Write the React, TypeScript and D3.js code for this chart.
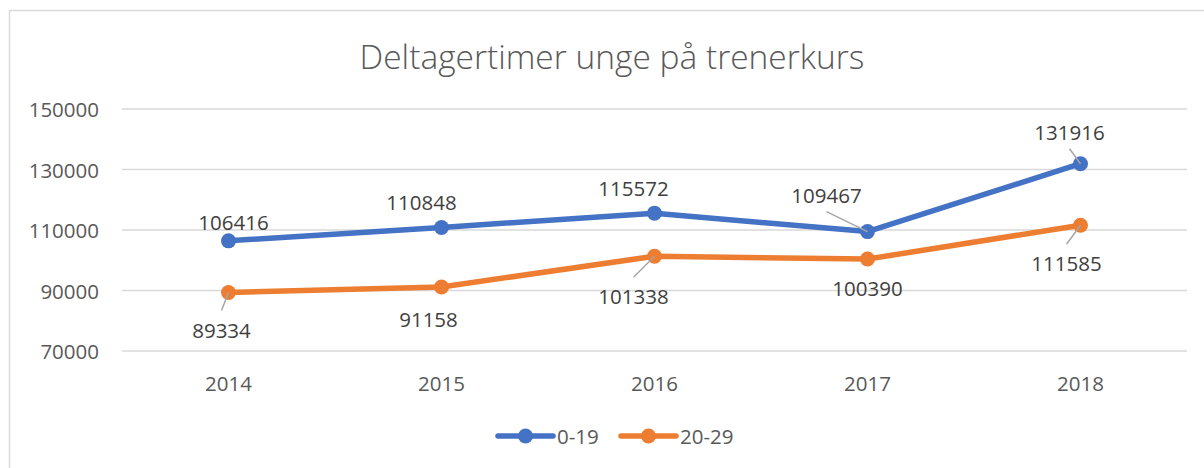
import React from "react";
import * as d3 from "d3";

const title = "Deltagertimer unge på trenerkurs";
const years = ["2014", "2015", "2016", "2017", "2018"];
const seriesNames = ["0-19", "20-29"];
const values0019 = [106416, 110848, 115572, 109467, 131916];
const values2029 = [89334, 91158, 101338, 100390, 111585];
const yTicks = [70000, 90000, 110000, 130000, 150000];
const colors = ["#4472C4", "#ED7D31"];

// label offsets (layout): [dx, dy, leader]
const labelLayout0019: [number, number, boolean][] = [
  [5, -19, false],
  [-20, -25, false],
  [-21, -25, false],
  [-41, -37, true],
  [-11, -32, true],
];
const labelLayout2029: [number, number, boolean][] = [
  [-7, 37, true],
  [-13, 32, false],
  [-21, 40, true],
  [0, 29, false],
  [-14, 38, true],
];

const W = 1204;
const H = 468;
const FONT = "'Open Sans', sans-serif";
const TEXT = "#595959";

export default function App() {
  const x = d3.scaleBand<string>().domain(years).range([122, 1187]);
  const y = d3.scaleLinear().domain([70000, 150000]).range([351, 109]);
  const cx = (d: string) => (x(d) as number) + x.bandwidth() / 2;

  const line = d3
    .line<number>()
    .x((_, i) => cx(years[i]))
    .y((v) => y(v));

  const series = [
    { name: seriesNames[0], values: values0019, layout: labelLayout0019, color: colors[0] },
    { name: seriesNames[1], values: values2029, layout: labelLayout2029, color: colors[1] },
  ];

  const legendItems = [
    { name: seriesNames[0], color: colors[0], x0: 498 },
    { name: seriesNames[1], color: colors[1], x0: 621 },
  ];

  return (
    <svg
      width={W}
      height={H}
      style={{ position: "absolute", left: 0, top: 0, background: "#fff" }}
    >
      <rect x={0} y={0} width={W} height={H} fill="#fff" />
      <rect x={9.5} y={10.5} width={W + 20} height={H + 20} fill="none" stroke="#D9D9D9" strokeWidth={1.5} />
      <text
        x={612}
        y={56}
        textAnchor="middle"
        dominantBaseline="central"
        fontFamily={FONT}
        fontSize={33.5}
        fontWeight={300}
        fill={TEXT}
      >
        {title}
      </text>
      {yTicks.map((t) => (
        <g key={t}>
          <line x1={122} x2={1187} y1={y(t)} y2={y(t)} stroke="#D9D9D9" strokeWidth={1.5} />
          <text
            x={99}
            y={y(t)}
            textAnchor="end"
            dominantBaseline="central"
            fontFamily={FONT}
            fontSize={20.5}
            fill={TEXT}
          >
            {t}
          </text>
        </g>
      ))}
      {years.map((yr) => (
        <text
          key={yr}
          x={cx(yr)}
          y={383}
          textAnchor="middle"
          dominantBaseline="central"
          fontFamily={FONT}
          fontSize={20.5}
          fill={TEXT}
        >
          {yr}
        </text>
      ))}
      {series.map((s) => (
        <g key={s.name}>
          <path
            d={line(s.values) || ""}
            fill="none"
            stroke={s.color}
            strokeWidth={5.5}
            strokeLinejoin="round"
            strokeLinecap="round"
          />
          {s.values.map((v, i) => (
            <circle key={i} cx={cx(years[i])} cy={y(v)} r={7.5} fill={s.color} />
          ))}
          {s.values.map((v, i) => {
            const [dx, dy, leader] = s.layout[i];
            const px = cx(years[i]);
            const py = y(v);
            const lx = px + dx;
            const ly = py + dy;
            const edgeY = dy < 0 ? ly + 11 : ly - 11;
            return (
              <g key={"l" + i}>
                {leader && (
                  <line x1={lx} y1={edgeY + (dy < 0 ? 6 : -8)} x2={px} y2={py} stroke="#A6A6A6" strokeWidth={1.5} />
                )}
                <text
                  x={lx}
                  y={ly}
                  textAnchor="middle"
                  dominantBaseline="central"
                  fontFamily={FONT}
                  fontSize={20.5}
                  fill="#404040"
                >
                  {v}
                </text>
              </g>
            );
          })}
        </g>
      ))}
      {legendItems.map((it) => (
        <g key={it.name}>
          <line
            x1={it.x0}
            x2={it.x0 + 55}
            y1={436}
            y2={436}
            stroke={it.color}
            strokeWidth={5.5}
            strokeLinecap="round"
          />
          <circle cx={it.x0 + 27.5} cy={436} r={7.5} fill={it.color} />
          <text
            x={it.x0 + 59}
            y={436}
            dominantBaseline="central"
            fontFamily={FONT}
            fontSize={20.5}
            fill={TEXT}
          >
            {it.name}
          </text>
        </g>
      ))}
    </svg>
  );
}
